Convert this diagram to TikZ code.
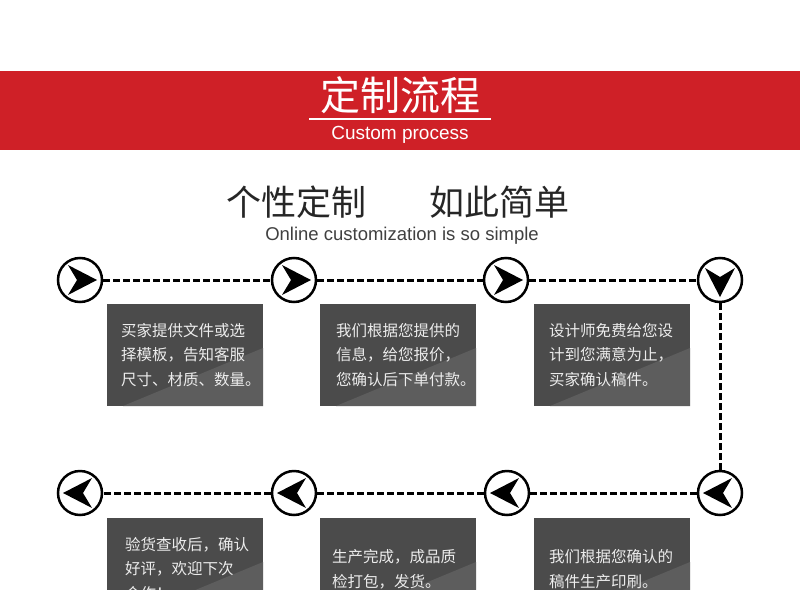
\documentclass[tikz,border=0pt]{standalone}
\usepackage{fontspec}
\newfontfamily\cjk{Noto Sans CJK SC}
\newfontfamily\latin{Liberation Sans}
\definecolor{brandred}{RGB}{207,32,39}
\definecolor{boxdark}{RGB}{75,75,75}
\definecolor{boxlight}{RGB}{93,93,93}
\definecolor{boxtext}{RGB}{236,236,236}

\tikzset{
  stepcircle/.style={circle, draw, line width=2.5pt, minimum size=44pt, inner sep=0pt,
    path picture={\fill
      ([shift={(#1:17pt)}]path picture bounding box.center)
      -- ([shift={(#1+128.7:19.2pt)}]path picture bounding box.center)
      -- ([shift={(#1+180:3pt)}]path picture bounding box.center)
      -- ([shift={(#1-128.7:19.2pt)}]path picture bounding box.center) -- cycle;}},
  flowline/.style={line width=3pt, dash pattern=on 6.5pt off 3.5pt},
  infobox/.style={fill=boxdark, minimum width=156pt, minimum height=102pt, inner sep=0pt,
    path picture={\fill[boxlight] ([xshift=16pt]path picture bounding box.south west)
      -- ([yshift=58pt]path picture bounding box.south east)
      -- (path picture bounding box.south east) -- cycle;}},
  infotext/.style={anchor=west, inner sep=0pt, align=left, text=boxtext,
    font=\cjk\fontsize{15.5pt}{24.5pt}\selectfont}
}

\begin{document}
\begin{tikzpicture}[x=1pt,y=-1pt]
\path[use as bounding box, clip] (0,0) rectangle (800,589);
\fill[white] (0,0) rectangle (800,589);

% header band
\fill[brandred] (0,71) rectangle (800,150);
\node[text=white, font=\cjk\fontsize{40pt}{40pt}\selectfont] (title) at (400,95) {定制流程};
\draw[white, line width=2pt] (309,119) -- (491,119);
\node[text=white, font=\latin\fontsize{19pt}{19pt}\selectfont] (subtitle) at (400,135) {Custom process};

% slogan
\node[text=black!85, font=\cjk\fontsize{35pt}{35pt}\selectfont] (slogan) at (398,202) {个性定制\hspace{63pt}如此简单};
\node[text=black!75, font=\latin\fontsize{18.5pt}{18.5pt}\selectfont] (slogansub) at (402,236) {Online customization is so simple};

% step markers
\node[stepcircle=0] (c1) at (80,280) {};
\node[stepcircle=0] (c2) at (294,280) {};
\node[stepcircle=0] (c3) at (506,280) {};
\node[stepcircle=-90] (c4) at (720,280) {};
\node[stepcircle=180] (c5) at (720,493) {};
\node[stepcircle=180] (c6) at (507,493) {};
\node[stepcircle=180] (c7) at (294,493) {};
\node[stepcircle=180] (c8) at (80,493) {};

\draw[flowline] (c1) -- (c2);
\draw[flowline] (c2) -- (c3);
\draw[flowline] (c3) -- (c4);
\draw[flowline] (c4) -- (c5);
\draw[flowline] (c5) -- (c6);
\draw[flowline] (c6) -- (c7);
\draw[flowline] (c7) -- (c8);

% step boxes
\node[infobox] (b1) at (185,355) {};
\node[infobox] (b2) at (398,355) {};
\node[infobox] (b3) at (612,355) {};
\node[infobox] (b4) at (612,569) {};
\node[infobox] (b5) at (398,569) {};
\node[infobox] (b6) at (185,569) {};

\node[infotext] (t1) at ([xshift=14pt]b1.west) {买家提供文件或选\\择模板，告知客服\\尺寸、材质、数量。};
\node[infotext] (t2) at ([xshift=16pt]b2.west) {我们根据您提供的\\信息，给您报价，\\您确认后下单付款。};
\node[infotext] (t3) at ([xshift=15pt]b3.west) {设计师免费给您设\\计到您满意为止，\\买家确认稿件。};
\node[infotext] (t4) at ([xshift=15pt]b4.west) {我们根据您确认的\\稿件生产印刷。};
\node[infotext] (t5) at ([xshift=12pt]b5.west) {生产完成，成品质\\检打包，发货。};
\node[infotext] (t6) at ([xshift=18pt]b6.west) {验货查收后，确认\\好评，欢迎下次\\合作！};
\end{tikzpicture}
\end{document}
